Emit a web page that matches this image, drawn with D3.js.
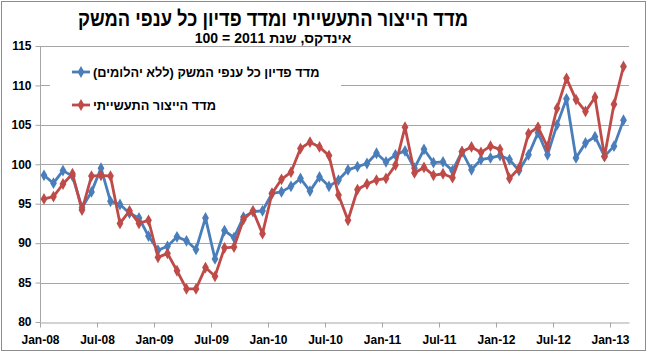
<!DOCTYPE html>
<html>
<head>
<meta charset="utf-8">
<script src="https://cdn.jsdelivr.net/npm/d3@7"></script>
<style>
  body { margin: 0; background: #fff; }
  svg { font-family: Arial, "Liberation Sans", sans-serif; }
  .grid line { stroke: #a6a6a6; stroke-width: 1; }
  .axis path, .axis line { stroke: #a6a6a6; }
  .axis text { font-weight: bold; font-size: 12px; fill: #000; }
</style>
</head>
<body>
<div id="chart"></div>
<script>
// month index 0 = Jan-08 ... 61 = Feb-13
var tickLabels = ['Jan-08', 'Jul-08', 'Jan-09', 'Jul-09', 'Jan-10', 'Jul-10',
    'Jan-11', 'Jul-11', 'Jan-12', 'Jul-12', 'Jan-13'];
var yTicks = [80, 85, 90, 95, 100, 105, 110, 115];

var revenueLabel = 'מדד פדיון כל ענפי המשק (ללא יהלומים)';
var revenue = [98.6, 97.6, 99.2, 98.5, 94.5, 96.5, 99.5, 95.3, 94.9, 93.8, 93.2, 90.9,
    89.1, 89.6, 90.8, 90.3, 89.2, 93.2, 88.0, 91.6, 90.7, 93.3, 94.0, 94.1,
    96.3, 96.5, 97.2, 98.2, 96.6, 98.4, 97.2, 98.0, 99.3, 99.7, 100.1, 101.4,
    100.3, 101.2, 101.7, 99.5, 101.9, 100.2, 100.3, 99.2, 101.6, 99.3, 100.6, 100.8,
    101.1, 100.6, 99.2, 101.2, 104.0, 101.2, 105.0, 108.3, 100.8, 102.7, 103.5, 101.0,
    102.3, 105.6];

var industryLabel = 'מדד הייצור התעשייתי';
var industry = [95.6, 95.9, 97.5, 98.8, 94.2, 98.5, 98.6, 98.5, 92.5, 94.1, 92.5, 92.9,
    88.2, 88.7, 86.5, 84.2, 84.2, 86.9, 85.8, 89.4, 89.5, 93.0, 94.1, 91.2,
    96.3, 98.1, 99.0, 102.0, 102.8, 102.2, 101.1, 96.1, 92.9, 96.8, 97.5, 98.0,
    98.2, 99.9, 104.7, 98.9, 99.6, 98.6, 98.8, 98.3, 101.6, 102.2, 101.5, 102.3,
    101.9, 98.2, 99.5, 103.9, 104.7, 102.2, 107.1, 110.9, 108.2, 106.7, 108.5, 101.0,
    107.6, 112.4];

var titleText = 'מדד הייצור התעשייתי ומדד פדיון כל ענפי המשק';
var subtitleText = 'אינדקס, שנת 2011 = 100';

var width = 649, height = 354;
var margin = { left: 40, right: 20, top: 46, bottom: 32 };

var svg = d3.select('#chart').append('svg')
    .attr('width', width)
    .attr('height', height);

svg.append('rect')
    .attr('x', 1.5).attr('y', 1.5)
    .attr('width', 644).attr('height', 349)
    .attr('fill', '#fff')
    .attr('stroke', '#8c8c8c');

var xScale = d3.scaleLinear()
    .domain([0, 62])
    .range([margin.left, width - margin.right]);
var yScale = d3.scaleLinear()
    .domain([80, 115])
    .range([height - margin.bottom, margin.top]);

// points sit inside their month slot
var xPos = function (i) { return xScale(i + 0.42); };

// gridlines
svg.append('g')
    .attr('class', 'grid')
    .selectAll('line')
    .data(yTicks.filter(function (d) { return d > 80; }))
    .join('line')
    .attr('x1', margin.left)
    .attr('x2', width - margin.right)
    .attr('y1', function (d) { return Math.round(yScale(d)) + 0.5; })
    .attr('y2', function (d) { return Math.round(yScale(d)) + 0.5; });

var yAxis = d3.axisLeft(yScale)
    .tickValues(yTicks)
    .tickSize(5)
    .tickPadding(4);
svg.append('g')
    .attr('class', 'axis')
    .attr('transform', 'translate(' + (margin.left + 0.5) + ',0)')
    .call(yAxis)
    .call(function (g) { g.select('.domain').attr('d', 'M0,' + yScale(115) + 'V' + yScale(80)); });

var xAxis = d3.axisBottom(xScale)
    .tickValues(tickLabels.map(function (d, k) { return k * 6; }))
    .tickFormat(function (d, k) { return tickLabels[k]; })
    .tickSize(5)
    .tickSizeOuter(0)
    .tickPadding(8);
svg.append('g')
    .attr('class', 'axis')
    .attr('transform', 'translate(0,' + (Math.round(yScale(80)) + 0.5) + ')')
    .call(xAxis)
    .selectAll('text').attr('font-size', 12);

// legend (white box covering the gridline)
var legend = svg.append('g');
legend.append('rect')
    .attr('x', 50).attr('y', 56)
    .attr('width', 291).attr('height', 62)
    .attr('fill', '#fff');

var series = [
    { name: revenueLabel, values: revenue, color: '#4a7ebb' },
    { name: industryLabel, values: industry, color: '#be4b48' }
];

var line = d3.line()
    .x(function (d, i) { return xPos(i); })
    .y(function (d) { return yScale(d); });

var diamond = d3.symbol().type(d3.symbolDiamond).size(40);

series.forEach(function (s, k) {
    var g = svg.append('g');
    g.append('path')
        .datum(s.values)
        .attr('fill', 'none')
        .attr('stroke', s.color)
        .attr('stroke-width', 2.8)
        .attr('stroke-linejoin', 'round')
        .attr('d', line);
    g.selectAll('path.mk')
        .data(s.values)
        .join('path')
        .attr('class', 'mk')
        .attr('transform', function (d, i) { return 'translate(' + xPos(i) + ',' + yScale(d) + ')'; })
        .attr('d', diamond)
        .attr('fill', s.color);

    var ly = 72 + k * 33;
    legend.append('line')
        .attr('x1', 72).attr('x2', 90)
        .attr('y1', ly).attr('y2', ly)
        .attr('stroke', s.color)
        .attr('stroke-width', 2.8);
    legend.append('path')
        .attr('transform', 'translate(81,' + ly + ')')
        .attr('d', diamond)
        .attr('fill', s.color);
    var t = legend.append('text')
        .attr('direction', 'rtl')
        .attr('text-anchor', 'middle')
        .attr('y', ly + 4.5)
        .attr('font-size', 12.8)
        .attr('font-weight', 'bold')
        .text(s.name);
    var w = t.node().getComputedTextLength();
    t.attr('x', 93 + w / 2);
});

svg.append('text')
    .attr('direction', 'rtl')
    .attr('text-anchor', 'middle')
    .attr('x', 273).attr('y', 26)
    .attr('font-size', 21)
    .attr('font-weight', 'bold')
    .attr('textLength', 390)
    .attr('lengthAdjust', 'spacingAndGlyphs')
    .text(titleText);

svg.append('text')
    .attr('direction', 'rtl')
    .attr('text-anchor', 'middle')
    .attr('x', 273).attr('y', 43)
    .attr('font-size', 14)
    .attr('font-weight', 'bold')
    .text(subtitleText);
</script>
</body>
</html>
